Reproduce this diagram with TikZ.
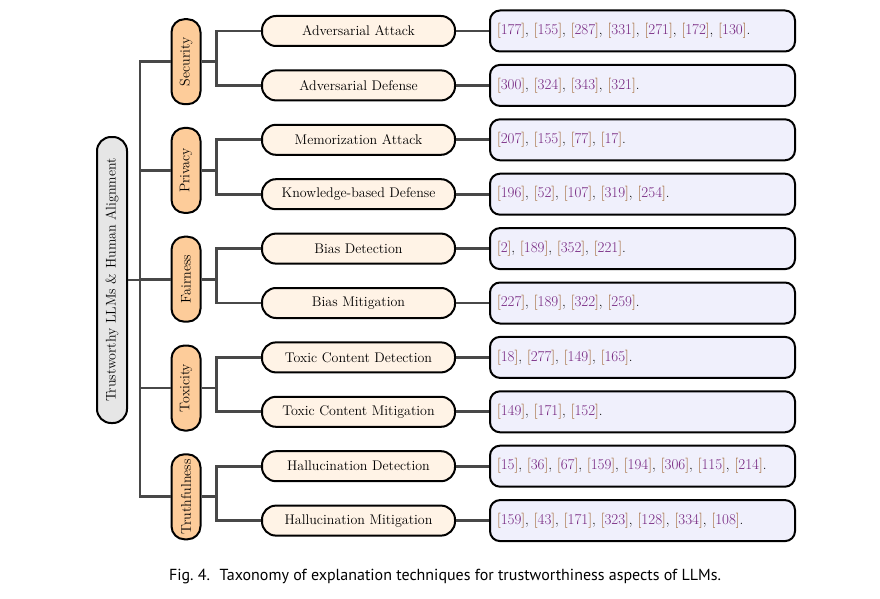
\documentclass[tikz,border=0pt]{standalone}
\usepackage{fontspec}
\newfontfamily\capfont{PT Sans}
\usepackage{xcolor}
\usetikzlibrary{positioning}

\definecolor{rootfill}{RGB}{230,230,230}
\definecolor{aspectfill}{RGB}{253,204,154}
\definecolor{topicfill}{RGB}{255,243,230}
\definecolor{reffill}{RGB}{240,240,252}
\definecolor{linkgray}{RGB}{72,72,72}
\definecolor{brkcolor}{RGB}{150,84,26}
\definecolor{numcolor}{RGB}{118,38,128}

\newcommand{\rf}[1]{\textcolor{brkcolor}{[}\textcolor{numcolor}{#1}\textcolor{brkcolor}{]}}

\tikzset{
	treefont/.style={font=\fontsize{14}{16}\selectfont},
	rootbox/.style={draw=black, line width=2pt, fill=rootfill, rounded corners=14pt, rotate=90, minimum width=286pt, minimum height=30pt, inner sep=2pt, treefont},
	aspectbox/.style={draw=black, line width=2pt, fill=aspectfill, rounded corners=13pt, rotate=90, minimum width=85pt, minimum height=29pt, inner sep=2pt, treefont},
	topicbox/.style={draw=black, line width=2pt, fill=topicfill, rounded corners=14pt, minimum width=193pt, minimum height=30pt, inner sep=2pt, treefont},
	refbox/.style={draw=black, line width=2pt, fill=reffill, rounded corners=10pt, minimum height=41pt, text width=291pt, inner xsep=7pt, align=left, font=\fontsize{15}{17}\selectfont},
	link/.style={draw=linkgray, line width=2.7pt},
}

\begin{document}
\begin{tikzpicture}[x=1pt,y=-1pt]
	\useasboundingbox (0,0) rectangle (880,599);

	% root and aspects
	\node[rootbox] (root) at (112,280) {Trustworthy LLMs \& Human Alignment};
	\node[aspectbox] (sec) at (186,61.7) {Security};
	\node[aspectbox] (pri) at (186,170.4) {Privacy};
	\node[aspectbox] (fai) at (186,279.2) {Fairness};
	\node[aspectbox] (tox) at (186,388) {Toxicity};
	\node[aspectbox] (tru) at (186,496.8) {Truthfulness};

	% topics
	\node[topicbox] (advatt) at (358.5,31) {Adversarial Attack};
	\node[topicbox] (advdef) at (358.5,85.4) {Adversarial Defense};
	\node[topicbox] (mematt) at (358.5,139.8) {Memorization Attack};
	\node[topicbox] (kbdef) at (358.5,194.2) {Knowledge-based Defense};
	\node[topicbox] (biasdet) at (358.5,248.6) {Bias Detection};
	\node[topicbox] (biasmit) at (358.5,303) {Bias Mitigation};
	\node[topicbox] (toxdet) at (358.5,357.4) {Toxic Content Detection};
	\node[topicbox] (toxmit) at (358.5,411.8) {Toxic Content Mitigation};
	\node[topicbox] (haldet) at (358.5,466.2) {Hallucination Detection};
	\node[topicbox] (halmit) at (358.5,520.6) {Hallucination Mitigation};

	% references
	\node[refbox, right=33pt of advatt] (advattref) {\rf{177}, \rf{155}, \rf{287}, \rf{331}, \rf{271}, \rf{172}, \rf{130}.};
	\node[refbox, right=33pt of advdef] (advdefref) {\rf{300}, \rf{324}, \rf{343}, \rf{321}.};
	\node[refbox, right=33pt of mematt] (memattref) {\rf{207}, \rf{155}, \rf{77}, \rf{17}.};
	\node[refbox, right=33pt of kbdef] (kbdefref) {\rf{196}, \rf{52}, \rf{107}, \rf{319}, \rf{254}.};
	\node[refbox, right=33pt of biasdet] (biasdetref) {\rf{2}, \rf{189}, \rf{352}, \rf{221}.};
	\node[refbox, right=33pt of biasmit] (biasmitref) {\rf{227}, \rf{189}, \rf{322}, \rf{259}.};
	\node[refbox, right=33pt of toxdet] (toxdetref) {\rf{18}, \rf{277}, \rf{149}, \rf{165}.};
	\node[refbox, right=33pt of toxmit] (toxmitref) {\rf{149}, \rf{171}, \rf{152}.};
	\node[refbox, right=33pt of haldet] (haldetref) {\rf{15}, \rf{36}, \rf{67}, \rf{159}, \rf{194}, \rf{306}, \rf{115}, \rf{214}.};
	\node[refbox, right=33pt of halmit] (halmitref) {\rf{159}, \rf{43}, \rf{171}, \rf{323}, \rf{128}, \rf{334}, \rf{108}.};

	% trunk from root to aspects
	\coordinate (trunk) at (140,280);
	\draw[link] (root.south) -- (trunk);
	\foreach \a in {sec,pri,fai,tox,tru}
		\draw[link] (trunk) |- (\a.north);

	% aspects to topics
	\foreach \a/\p/\q in {sec/advatt/advdef, pri/mematt/kbdef, fai/biasdet/biasmit, tox/toxdet/toxmit, tru/haldet/halmit} {
		\coordinate (\a joint) at ([xshift=15pt]\a.south);
		\draw[link] (\a.south) -- (\a joint);
		\draw[link] (\a joint) |- (\p.west);
		\draw[link] (\a joint) |- (\q.west);
	}

	% topics to references
	\foreach \t in {advatt,advdef,mematt,kbdef,biasdet,biasmit,toxdet,toxmit,haldet,halmit}
		\draw[link] (\t.east) -- (\t ref.west);

	\node[font=\capfont\fontsize{16}{19}\selectfont] (caption) at (445,577) {Fig.~4.\hspace{0.6em}Taxonomy of explanation techniques for trustworthiness aspects of LLMs.};
\end{tikzpicture}
\end{document}
